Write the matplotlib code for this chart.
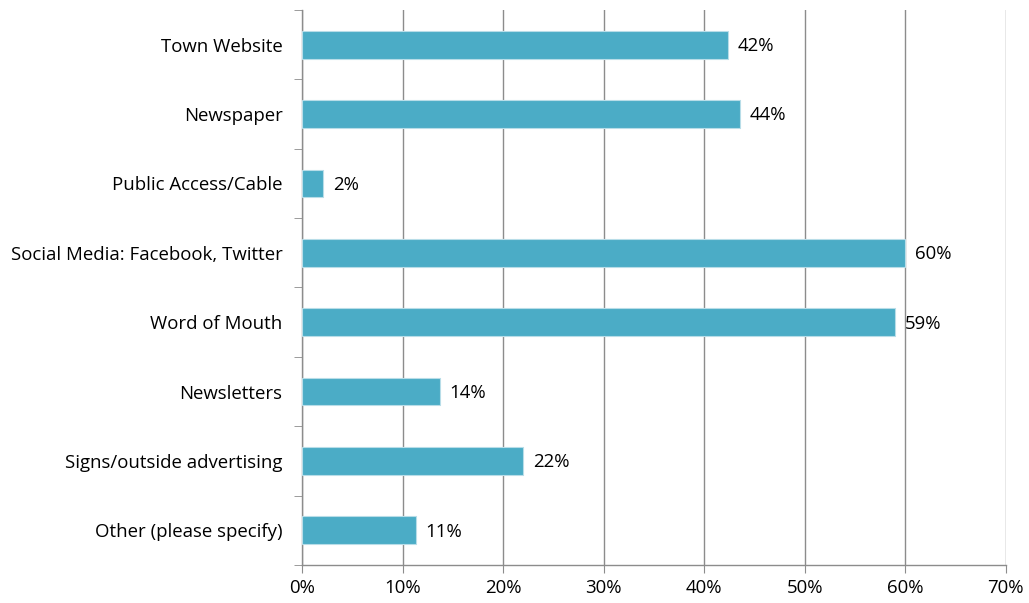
import matplotlib.pyplot as plt
import numpy as np

categorias = ['Town Website', 'Newspaper', 'Public Access/Cable',
              'Social Media: Facebook, Twitter', 'Word of Mouth',
              'Newsletters', 'Signs/outside advertising', 'Other (please specify)']
percentuais = [42.4, 43.6, 2.1, 60.0, 59.0, 13.7, 22.0, 11.3]
ticks_x = [0, 10, 20, 30, 40, 50, 60, 70]

plt.rcParams['font.family'] = ['Open Sans', 'DejaVu Sans']

fig = plt.figure(figsize=(10.29, 6.03), dpi=100)
ax = fig.add_axes([0.2935, 0.063, 0.684, 0.9205])

pos = np.arange(len(categorias))
cinza = '#8c8c8c'
tam = 13.4

ax.barh(pos, percentuais, height=0.4, color='#4bacc6', edgecolor='#b8dde8',
        linewidth=0.8, zorder=3)

# rótulos de valor ao lado de cada barra
for y, v in zip(pos, percentuais):
    ax.annotate(f'{round(v)}%', (v, y), xytext=(7, -1), textcoords='offset points',
                va='center', ha='left', fontsize=tam, color='black', zorder=4)

ax.set_xlim(0, 70)
ax.set_ylim(len(categorias) - 0.5, -0.5)
ax.set_xticks(ticks_x)
ax.set_xticklabels([f'{t}%' for t in ticks_x], fontsize=tam)
ax.set_yticks(pos)
ax.set_yticklabels(categorias, fontsize=tam)
ax.set_yticks(np.arange(len(categorias) + 1) - 0.5, minor=True)

ax.tick_params(axis='y', which='major', length=0, pad=14)
ax.tick_params(axis='y', which='minor', length=6, direction='out', color=cinza)
ax.tick_params(axis='x', which='major', length=6, direction='out', color=cinza, pad=4)

ax.grid(True, axis='x', color=cinza, linewidth=1, zorder=0)
ax.set_axisbelow(True)
for lado in ['top', 'right']:
    ax.spines[lado].set_visible(False)
for lado in ['left', 'bottom']:
    ax.spines[lado].set_color(cinza)
    ax.spines[lado].set_linewidth(1)

plt.savefig('out.png', dpi=100)
plt.close()
